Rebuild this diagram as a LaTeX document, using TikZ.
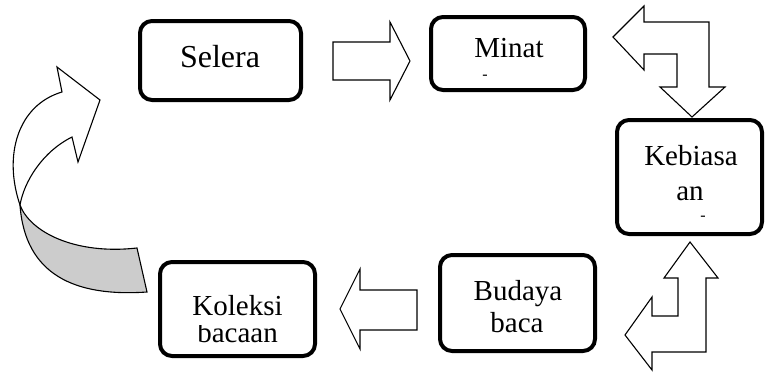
\documentclass[tikz,border=0pt]{standalone}
\usepackage{fontspec}
\setmainfont{Liberation Serif}
\begin{document}
\begin{tikzpicture}[x=1pt,y=-1pt,
  box/.style={draw, line width=4pt, rounded corners=12pt, inner sep=0pt},
  blk/.style={draw, line width=1.1pt, fill=white, line join=miter},
  lbl/.style={anchor=base, inner sep=0pt, font=\fontsize{29}{33}\selectfont},
  tiny/.style={anchor=base, inner sep=0pt, font=\fontsize{16}{18}\selectfont}]
\useasboundingbox (0,0) rectangle (766,372);
% boxes
\node[box, minimum width=161pt, minimum height=79pt] (selera) at (220.5,60.5) {};
\node[box, minimum width=154pt, minimum height=73pt] (minat) at (508,53.5) {};
\node[box, minimum width=145pt, minimum height=114pt] (kebiasaan) at (689.5,177) {};
\node[box, minimum width=155pt, minimum height=96pt] (budaya) at (517.5,303) {};
\node[box, minimum width=155pt, minimum height=94pt] (koleksi) at (237.5,309) {};
% labels
\node[lbl, font=\fontsize{32}{36}\selectfont] (tSelera) at (220,67) {Selera};
\node[lbl] (tMinat) at (509,57) {Minat};
\node[tiny] (dMinat) at (485,79) {-};
\node[lbl] (tKeb1) at (691,165) {Kebiasa};
\node[lbl] (tKeb2) at (690,200) {an};
\node[tiny] (dKeb) at (703,220) {-};
\node[lbl] (tBud1) at (518,300) {Budaya};
\node[lbl] (tBud2) at (517,332) {baca};
\node[lbl] (tKol1) at (237.5,315) {Koleksi};
\begin{scope}
\clip (150,325) rectangle (330,372);
\node[lbl] (tKol2) at (237.5,342) {bacaan};
\end{scope}
% block arrows
\draw[blk] (333,42) -- (390,42) -- (390,22) -- (410,61) -- (390,100) -- (390,80) -- (333,80) -- cycle;
\draw[blk] (417,290) -- (360,290) -- (360,269) -- (340,309) -- (360,349) -- (360,330) -- (417,330) -- cycle;
\draw[blk] (613,37) -- (644,6) -- (644,22) -- (709,22) -- (709,87) -- (725,87) -- (692,117) -- (660,87) -- (677,87) -- (677,54) -- (644,54) -- (644,70) -- cycle;
\draw[blk] (690,242) -- (718,278) -- (706,278) -- (706,352) -- (652,352) -- (652,370) -- (625,335) -- (652,297) -- (652,316) -- (678,316) -- (678,278) -- (664,278) -- cycle;
% curved arrow
\draw[blk, fill=gray!40] (20,205) .. controls (30,232) and (75,255) .. (137,248) -- (147,292) .. controls (75,297) and (25,275) .. (20,205) -- cycle;
\draw[blk] (20,205) .. controls (3,155) and (18,105) .. (62,92) -- (57,67) -- (100,100) -- (78,162) -- (72,137) .. controls (42,152) and (24,182) .. (20,205) -- cycle;
\end{tikzpicture}
\end{document}
